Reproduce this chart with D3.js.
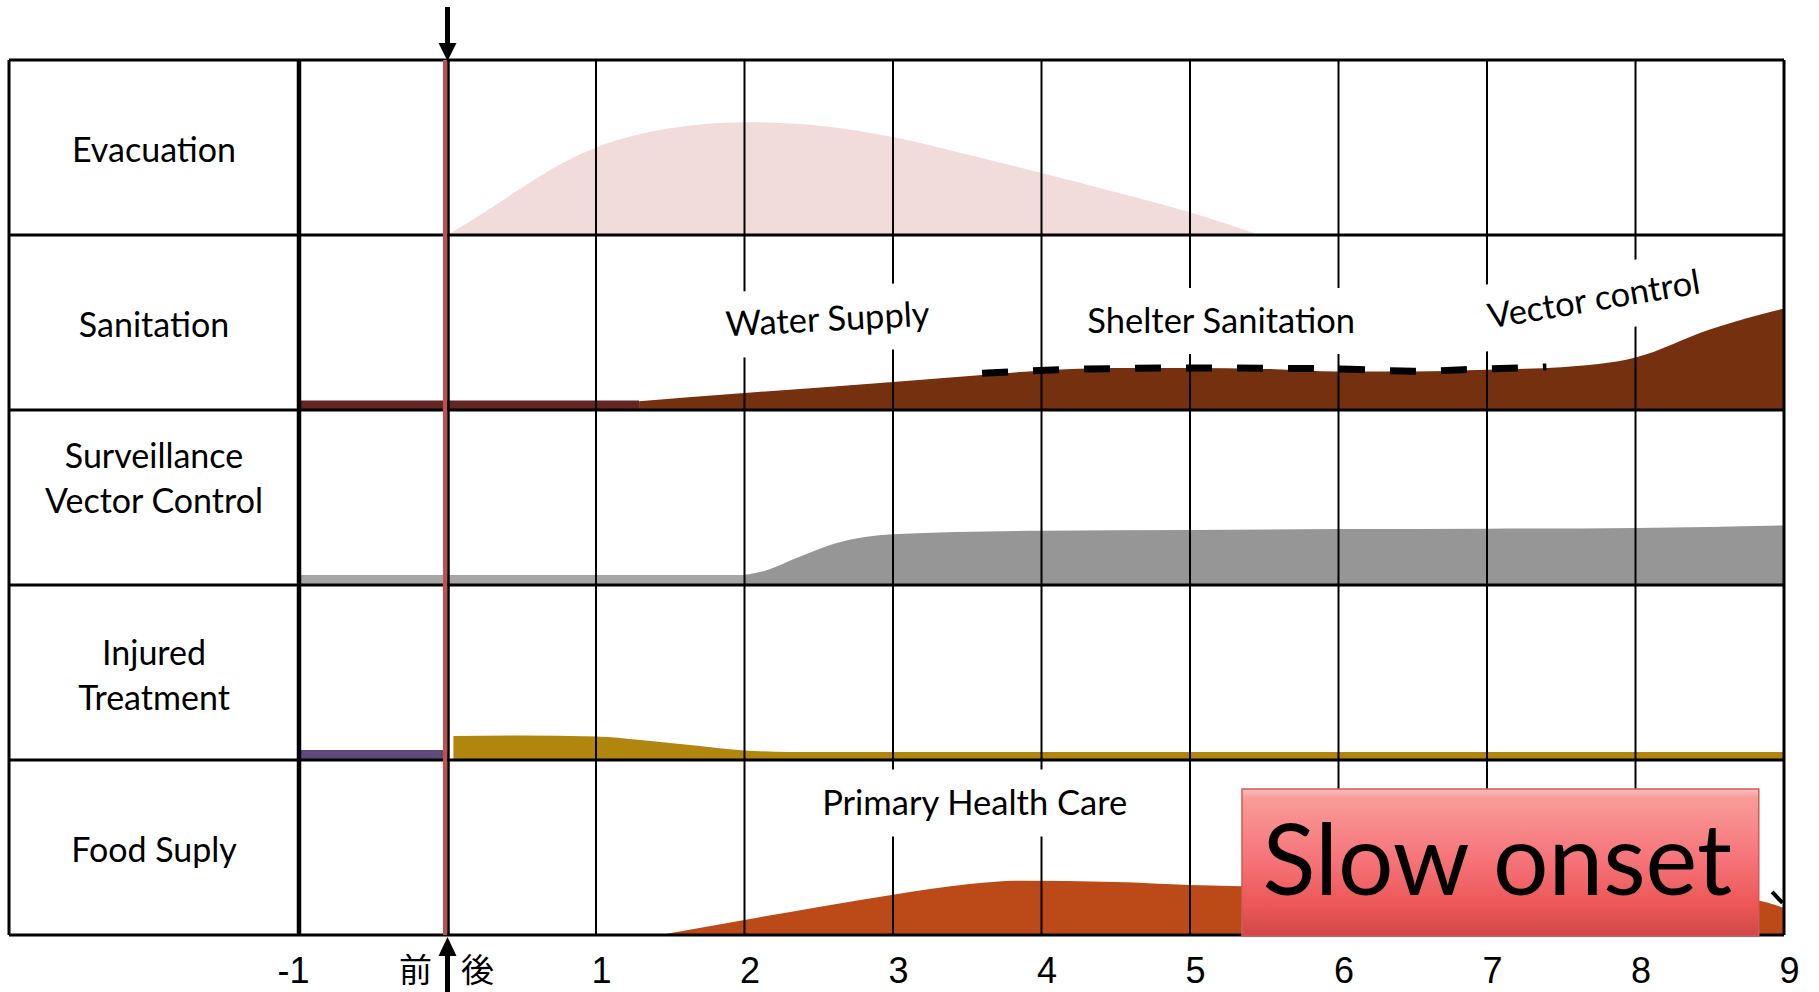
<!DOCTYPE html>
<html>
<head>
<meta charset="utf-8">
<script src="https://cdn.jsdelivr.net/npm/d3@7"></script>
<style>
  body { margin: 0; background: #fff; }
</style>
</head>
<body>
<div id="chart"></div>
<script>
// rows of the table, top to bottom
const rowNames = ['Evacuation', 'Sanitation', 'Surveillance|Vector Control', 'Injured|Treatment', 'Food Suply'];
const xTicks = [-1, 1, 2, 3, 4, 5, 6, 7, 8, 9];
const gridTicks = [1, 2, 3, 4, 5, 6, 7, 8];
const eventLabels = ['前', '後'];
const notes = ['Water Supply', 'Shelter Sanitation', 'Vector control', 'Primary Health Care'];
const badge = 'Slow onset';

// [time, share of row height]
const evacuation = [[0, 0], [0.25, 0.13], [0.5, 0.27], [0.75, 0.4], [1, 0.5], [1.5, 0.61], [2, 0.645], [2.5, 0.625], [3, 0.56], [3.5, 0.46], [4, 0.355], [4.5, 0.245], [5, 0.13], [5.47, 0]];
const sanitationBefore = [[-1, 0.055], [1.29, 0.055]];
const sanitation = [[1.29, 0.05], [2, 0.097], [3, 0.16], [3.6, 0.2], [4, 0.225], [4.5, 0.24], [5, 0.24], [5.5, 0.235], [6, 0.22], [6.5, 0.22], [7, 0.23], [7.5, 0.245], [8, 0.3], [8.5, 0.46], [9, 0.58]];
const sanitationDash = [[3.6, 0.21], [4.2, 0.232], [5, 0.24], [6, 0.235], [6.5, 0.222], [7, 0.235], [7.4, 0.246]];
const surveillanceBefore = [[-1, 0.057], [2, 0.057]];
const surveillance = [[2, 0.057], [2.15, 0.085], [2.35, 0.154], [2.62, 0.24], [3, 0.29], [4, 0.31], [5, 0.314], [6, 0.32], [7, 0.322], [8, 0.326], [9, 0.34]];
const injuredBefore = [[-1, 0.057], [0, 0.057]];
const injured = [[0.04, 0.137], [0.5, 0.14], [1, 0.135], [1.3, 0.115], [1.6, 0.088], [2, 0.055], [2.3, 0.046], [9, 0.046]];
const food = [[1.43, 0], [2, 0.086], [2.5, 0.16], [3, 0.23], [3.5, 0.29], [3.85, 0.31], [4.5, 0.303], [5, 0.286], [6, 0.27], [7, 0.25], [8, 0.23], [8.8, 0.2], [9, 0.154]];
const foodDash = [[8.92, 0.246], [8.99, 0.183]];

const width = 1819, height = 992;
const labelFont = 'Lato, "Open Sans", sans-serif';

const svg = d3.select('#chart').append('svg')
    .attr('width', width)
    .attr('height', height)
    .attr('viewBox', [0, 0, width, height]);

const x = d3.scaleLinear().domain([-1, 9]).range([299, 1784]);
const row = d3.scaleBand().domain(rowNames).range([60, 935]);
const yIn = name => d3.scaleLinear().domain([0, 1]).range([row(name) + row.bandwidth(), row(name)]);

const areaFor = (name, curve) => d3.area()
    .x(d => x(d[0]))
    .y0(yIn(name)(0))
    .y1(d => yIn(name)(d[1]))
    .curve(curve);

const defs = svg.append('defs');
const grad = defs.append('linearGradient')
    .attr('id', 'badgeFill')
    .attr('x1', 0).attr('y1', 0).attr('x2', 0).attr('y2', 1);
[['0%', '#f8c2be'], ['6%', '#f99c97'], ['45%', '#f6767c'], ['80%', '#ec5656'], ['100%', '#cf4848']]
    .forEach(s => grad.append('stop').attr('offset', s[0]).attr('stop-color', s[1]));

// filled bands
const bands = [
    { data: evacuation, row: rowNames[0], color: '#f2dcdb', curve: d3.curveMonotoneX },
    { data: sanitationBefore, row: rowNames[1], color: '#632523', curve: d3.curveLinear },
    { data: sanitation, row: rowNames[1], color: '#74300f', curve: d3.curveMonotoneX },
    { data: surveillanceBefore, row: rowNames[2], color: '#a6a6a6', curve: d3.curveLinear },
    { data: surveillance, row: rowNames[2], color: '#969696', curve: d3.curveMonotoneX },
    { data: injuredBefore, row: rowNames[3], color: '#5f497a', curve: d3.curveLinear },
    { data: injured, row: rowNames[3], color: '#b1860f', curve: d3.curveMonotoneX },
    { data: food, row: rowNames[4], color: '#bb4a18', curve: d3.curveMonotoneX }
];

svg.append('g')
    .selectAll('path')
    .data(bands)
    .join('path')
    .attr('fill', d => d.color)
    .attr('d', d => areaFor(d.row, d.curve)(d.data));

// thin vertical grid
svg.append('g')
    .attr('stroke', '#000')
    .attr('stroke-width', 2)
    .selectAll('line')
    .data(gridTicks)
    .join('line')
    .attr('x1', d => x(d)).attr('x2', d => x(d))
    .attr('y1', 60).attr('y2', 935);

// white boxes behind the notes
const noteG = svg.append('g').attr('font-family', labelFont).attr('font-size', 34.5).attr('fill', '#000');

const noteBox = (cx, cy, w, h, angle, text, dy) => {
    const g = noteG.append('g').attr('transform', `translate(${cx},${cy}) rotate(${angle})`);
    g.append('rect')
        .attr('x', -w / 2).attr('y', -h / 2)
        .attr('width', w).attr('height', h)
        .attr('fill', '#fff');
    g.append('text')
        .attr('text-anchor', 'middle')
        .attr('y', dy)
        .text(text);
};

noteBox(x(2.56), 320, 214, 66, -3, notes[0], 11);
noteBox(x(5.21), 321, 282, 66, 0, notes[1], 12);
noteBox(x(7.72), 300, 250, 66, -9.5, notes[2], 11);
noteBox(x(3.55), 803, 325, 67, 0, notes[3], 12);

// dashed guides
const dashLine = name => d3.line()
    .x(d => x(d[0]))
    .y(d => yIn(name)(d[1]))
    .curve(d3.curveMonotoneX);

svg.append('path')
    .attr('fill', 'none')
    .attr('stroke', '#000')
    .attr('stroke-width', 7)
    .attr('stroke-dasharray', '26 25')
    .attr('d', dashLine(rowNames[1])(sanitationDash));

svg.append('path')
    .attr('fill', 'none')
    .attr('stroke', '#000')
    .attr('stroke-width', 4)
    .attr('d', dashLine(rowNames[4])(foodDash));

// table frame
svg.append('g')
    .attr('stroke', '#000')
    .attr('stroke-width', 3)
    .selectAll('line')
    .data(rowNames.map(r => row(r)).concat([935]))
    .join('line')
    .attr('x1', 9).attr('x2', x(9))
    .attr('y1', d => d).attr('y2', d => d);

svg.append('line')
    .attr('stroke', '#000').attr('stroke-width', 3)
    .attr('x1', 9).attr('x2', 9).attr('y1', 60).attr('y2', 935);
svg.append('line')
    .attr('stroke', '#000').attr('stroke-width', 3)
    .attr('x1', x(9)).attr('x2', x(9)).attr('y1', 60).attr('y2', 935);
svg.append('line')
    .attr('stroke', '#000').attr('stroke-width', 4.5)
    .attr('x1', x(-1)).attr('x2', x(-1)).attr('y1', 60).attr('y2', 935);

// row labels (second row sits a bit high in the original)
const labelShift = { 'Surveillance|Vector Control': -22 };
svg.append('g')
    .attr('font-family', labelFont)
    .attr('font-size', 34)
    .attr('text-anchor', 'middle')
    .selectAll('text')
    .data(rowNames)
    .join('text')
    .attr('transform', d => `translate(${(9 + x(-1)) / 2},${row(d) + row.bandwidth() / 2 + 14.5})`)
    .each(function (d) {
        const lines = d.split('|');
        d3.select(this).selectAll('tspan')
            .data(lines)
            .join('tspan')
            .attr('x', 0)
            .attr('y', (l, i) => i * 45 - (lines.length - 1) * 45 / 2 + (labelShift[d] || 0))
            .text(l => l);
    });

// event line at time 0
const x0 = x(0);
svg.append('rect')
    .attr('x', x0 - 4.5).attr('y', 60)
    .attr('width', 4.5).attr('height', 875)
    .attr('fill', '#c0504d');
svg.append('line')
    .attr('stroke', '#000').attr('stroke-width', 2.5)
    .attr('x1', x0 + 1).attr('x2', x0 + 1).attr('y1', 60).attr('y2', 935);

// arrows above and below
svg.append('rect').attr('x', x0 - 2.5).attr('y', 7).attr('width', 5).attr('height', 38).attr('fill', '#000');
svg.append('path').attr('d', `M${x0 - 9},43L${x0 + 9},43L${x0},61Z`).attr('fill', '#000');
svg.append('rect').attr('x', x0 - 2.5).attr('y', 953).attr('width', 5).attr('height', 40).attr('fill', '#000');
svg.append('path').attr('d', `M${x0 - 9},956L${x0 + 9},956L${x0},937Z`).attr('fill', '#000');

// time axis
const xAxis = d3.axisBottom(x)
    .tickValues(xTicks)
    .tickSize(0)
    .tickPadding(22)
    .tickFormat(d => String(d));

svg.append('g')
    .attr('transform', `translate(0,935)`)
    .call(xAxis)
    .call(g => g.select('.domain').remove())
    .call(g => g.selectAll('text')
        .attr('font-family', '"Liberation Sans", Arial, sans-serif')
        .attr('font-size', 36)
        .attr('fill', '#000')
        .attr('dx', d => d < 0 ? -6 : 5));

svg.append('g')
    .attr('font-family', '"Noto Sans CJK JP", sans-serif')
    .attr('font-size', 33)
    .attr('text-anchor', 'middle')
    .selectAll('text')
    .data(eventLabels)
    .join('text')
    .attr('x', (d, i) => x0 + (i === 0 ? -32 : 30))
    .attr('y', 982)
    .text(d => d);

// slow onset badge
const bx = x(5.35), by = 789, bw = x(8.83) - x(5.35), bh = 147;
svg.append('rect')
    .attr('x', bx).attr('y', by)
    .attr('width', bw).attr('height', bh)
    .attr('fill', 'url(#badgeFill)')
    .attr('stroke', '#d25a5a')
    .attr('stroke-width', 1.5);
svg.append('text')
    .attr('x', bx + bw / 2 - 3)
    .attr('y', 895)
    .attr('text-anchor', 'middle')
    .attr('font-family', labelFont)
    .attr('font-size', 98)
    .attr('fill', '#000')
    .text(badge);
</script>
</body>
</html>
